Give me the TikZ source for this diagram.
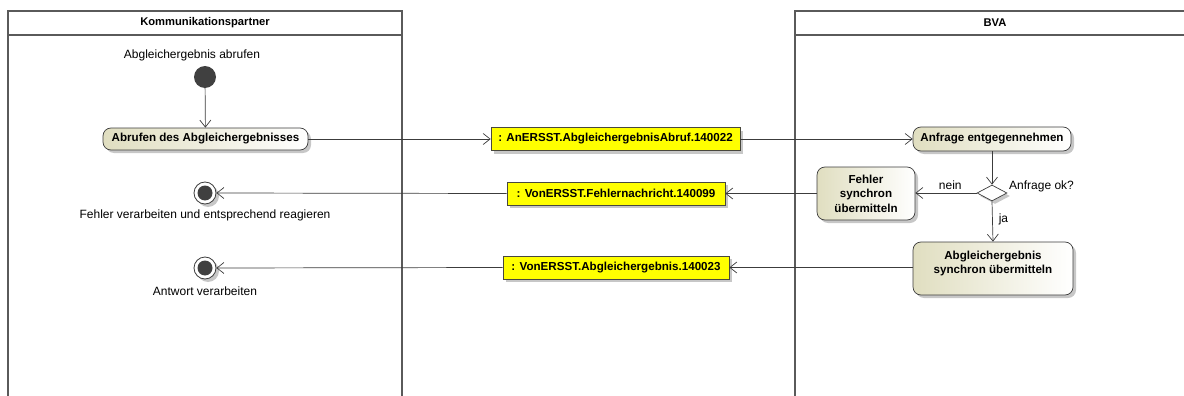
\documentclass[tikz,border=0pt]{standalone}
\usepackage{fontspec}
\setmainfont{Liberation Sans}
\usetikzlibrary{arrows.meta,shapes.geometric,shadows}
\definecolor{lanecol}{RGB}{90,90,90}
\definecolor{edgecol}{RGB}{60,60,60}
\definecolor{olive}{RGB}{224,222,192}
\definecolor{objyellow}{RGB}{255,255,0}
\definecolor{dot}{RGB}{64,64,64}
\tikzset{
  lane/.style={draw=lanecol, line width=1.4pt},
  txt/.style={font=\fontsize{12}{14}\selectfont, inner sep=0pt},
  hdr/.style={font=\fontsize{11.2}{13}\selectfont\bfseries, inner sep=0pt},
  shad/.style={drop shadow={shadow xshift=3pt, shadow yshift=-3pt, fill=black!22, opacity=1}},
  action/.style={draw=edgecol, line width=0.7pt, rounded corners=8pt, left color=olive, right color=white,
     font=\fontsize{11.6}{14.5}\selectfont\bfseries, align=center, inner sep=2pt, shad},
  obj/.style={draw=black!60!olive!80!black, line width=0.6pt, fill=objyellow, font=\fontsize{11.6}{13.5}\selectfont\bfseries,
     inner sep=2pt, minimum height=23pt, shad},
  startnode/.style={circle, fill=dot, minimum size=22pt, inner sep=0pt},
  endnode/.style={circle, draw=edgecol, line width=0.8pt, fill=white, minimum size=22pt, inner sep=0pt, shad,
     path picture={\fill[dot] (path picture bounding box.center) circle (7.5pt);}},
  decision/.style={diamond, draw=edgecol, line width=0.7pt, fill=white, minimum width=30pt, minimum height=16pt,
     aspect=1.875, inner sep=0pt, shad},
  flow/.style={draw=edgecol, line width=0.7pt, -{Straight Barb[length=7pt,width=11pt,line width=0.7pt]}},
  plain/.style={draw=edgecol, line width=0.7pt}
}
\begin{document}
\begin{tikzpicture}[x=1pt,y=-1pt]
\useasboundingbox (0,0) rectangle (1184,396);
\clip (0,0) rectangle (1184,396);
% lanes
\draw[lane] (8,400) -- (8,11) -- (402,11) -- (402,400);
\draw[lane] (8,35) -- (402,35);
\draw[lane] (795,400) -- (795,11) -- (1190,11);
\draw[lane] (795,35) -- (1190,35);
\node[hdr] (h1) at (205,23) {Kommunikationspartner};
\node[hdr] (h2) at (995,23) {BVA};
% left lane
\node[txt] (startlbl) at (192,55) {Abgleichergebnis abrufen};
\node[startnode] (start) at (205,77) {};
\node[action, minimum width=205pt, minimum height=22pt] (abrufen) at (205.5,139) {Abrufen des Abgleichergebnisses};
\node[endnode] (end1) at (205,193) {};
\node[txt] (end1lbl) at (205,215) {Fehler verarbeiten und entsprechend reagieren};
\node[endnode] (end2) at (205,268) {};
\node[txt] (end2lbl) at (205,291) {Antwort verarbeiten};
% objects
\node[obj, minimum width=249pt] (obj1) at (615.5,139) {: AnERSST.AbgleichergebnisAbruf.140022};
\node[obj, minimum width=218pt] (obj2) at (616,193.5) {: VonERSST.Fehlernachricht.140099};
\node[obj, minimum width=226pt] (obj3) at (616,267.5) {: VonERSST.Abgleichergebnis.140023};
% right lane
\node[action, minimum width=158pt, minimum height=24pt] (anfrage) at (992,139) {Anfrage entgegennehmen};
\node[decision] (dec) at (992,193) {};
\node[txt, anchor=west] (declbl) at (1009,186) {Anfrage ok?};
\node[action, minimum width=98pt, minimum height=53pt] (fehler) at (866,193.5) {Fehler\\synchron\\übermitteln};
\node[action, minimum width=160pt, minimum height=53pt] (abgl) at (993,268.5) {Abgleichergebnis\\synchron übermitteln\\[-2pt]~};
% edges
\draw[flow] (start) -- (abrufen);
\draw[flow] (abrufen.east) -- (obj1.west);
\draw[flow] (obj1.east) -- (anfrage.west);
\draw[flow] (anfrage.south) -- (dec.north);
\draw[flow] (dec.west) -- node[txt, above=3pt, pos=0.43] (nein) {nein} (fehler.east |- dec.west);
\draw[flow] (dec.south) -- node[txt, right=6pt, pos=0.45] (ja) {ja} (abgl.north);
\draw[flow] (fehler.west |- obj2.east) -- (obj2.east);
\draw[flow] (obj2.west) -- (end1.east);
\draw[flow] (abgl.west |- obj3.east) -- (obj3.east);
\draw[flow] (obj3.west) -- (end2.east);
\end{tikzpicture}
\end{document}
